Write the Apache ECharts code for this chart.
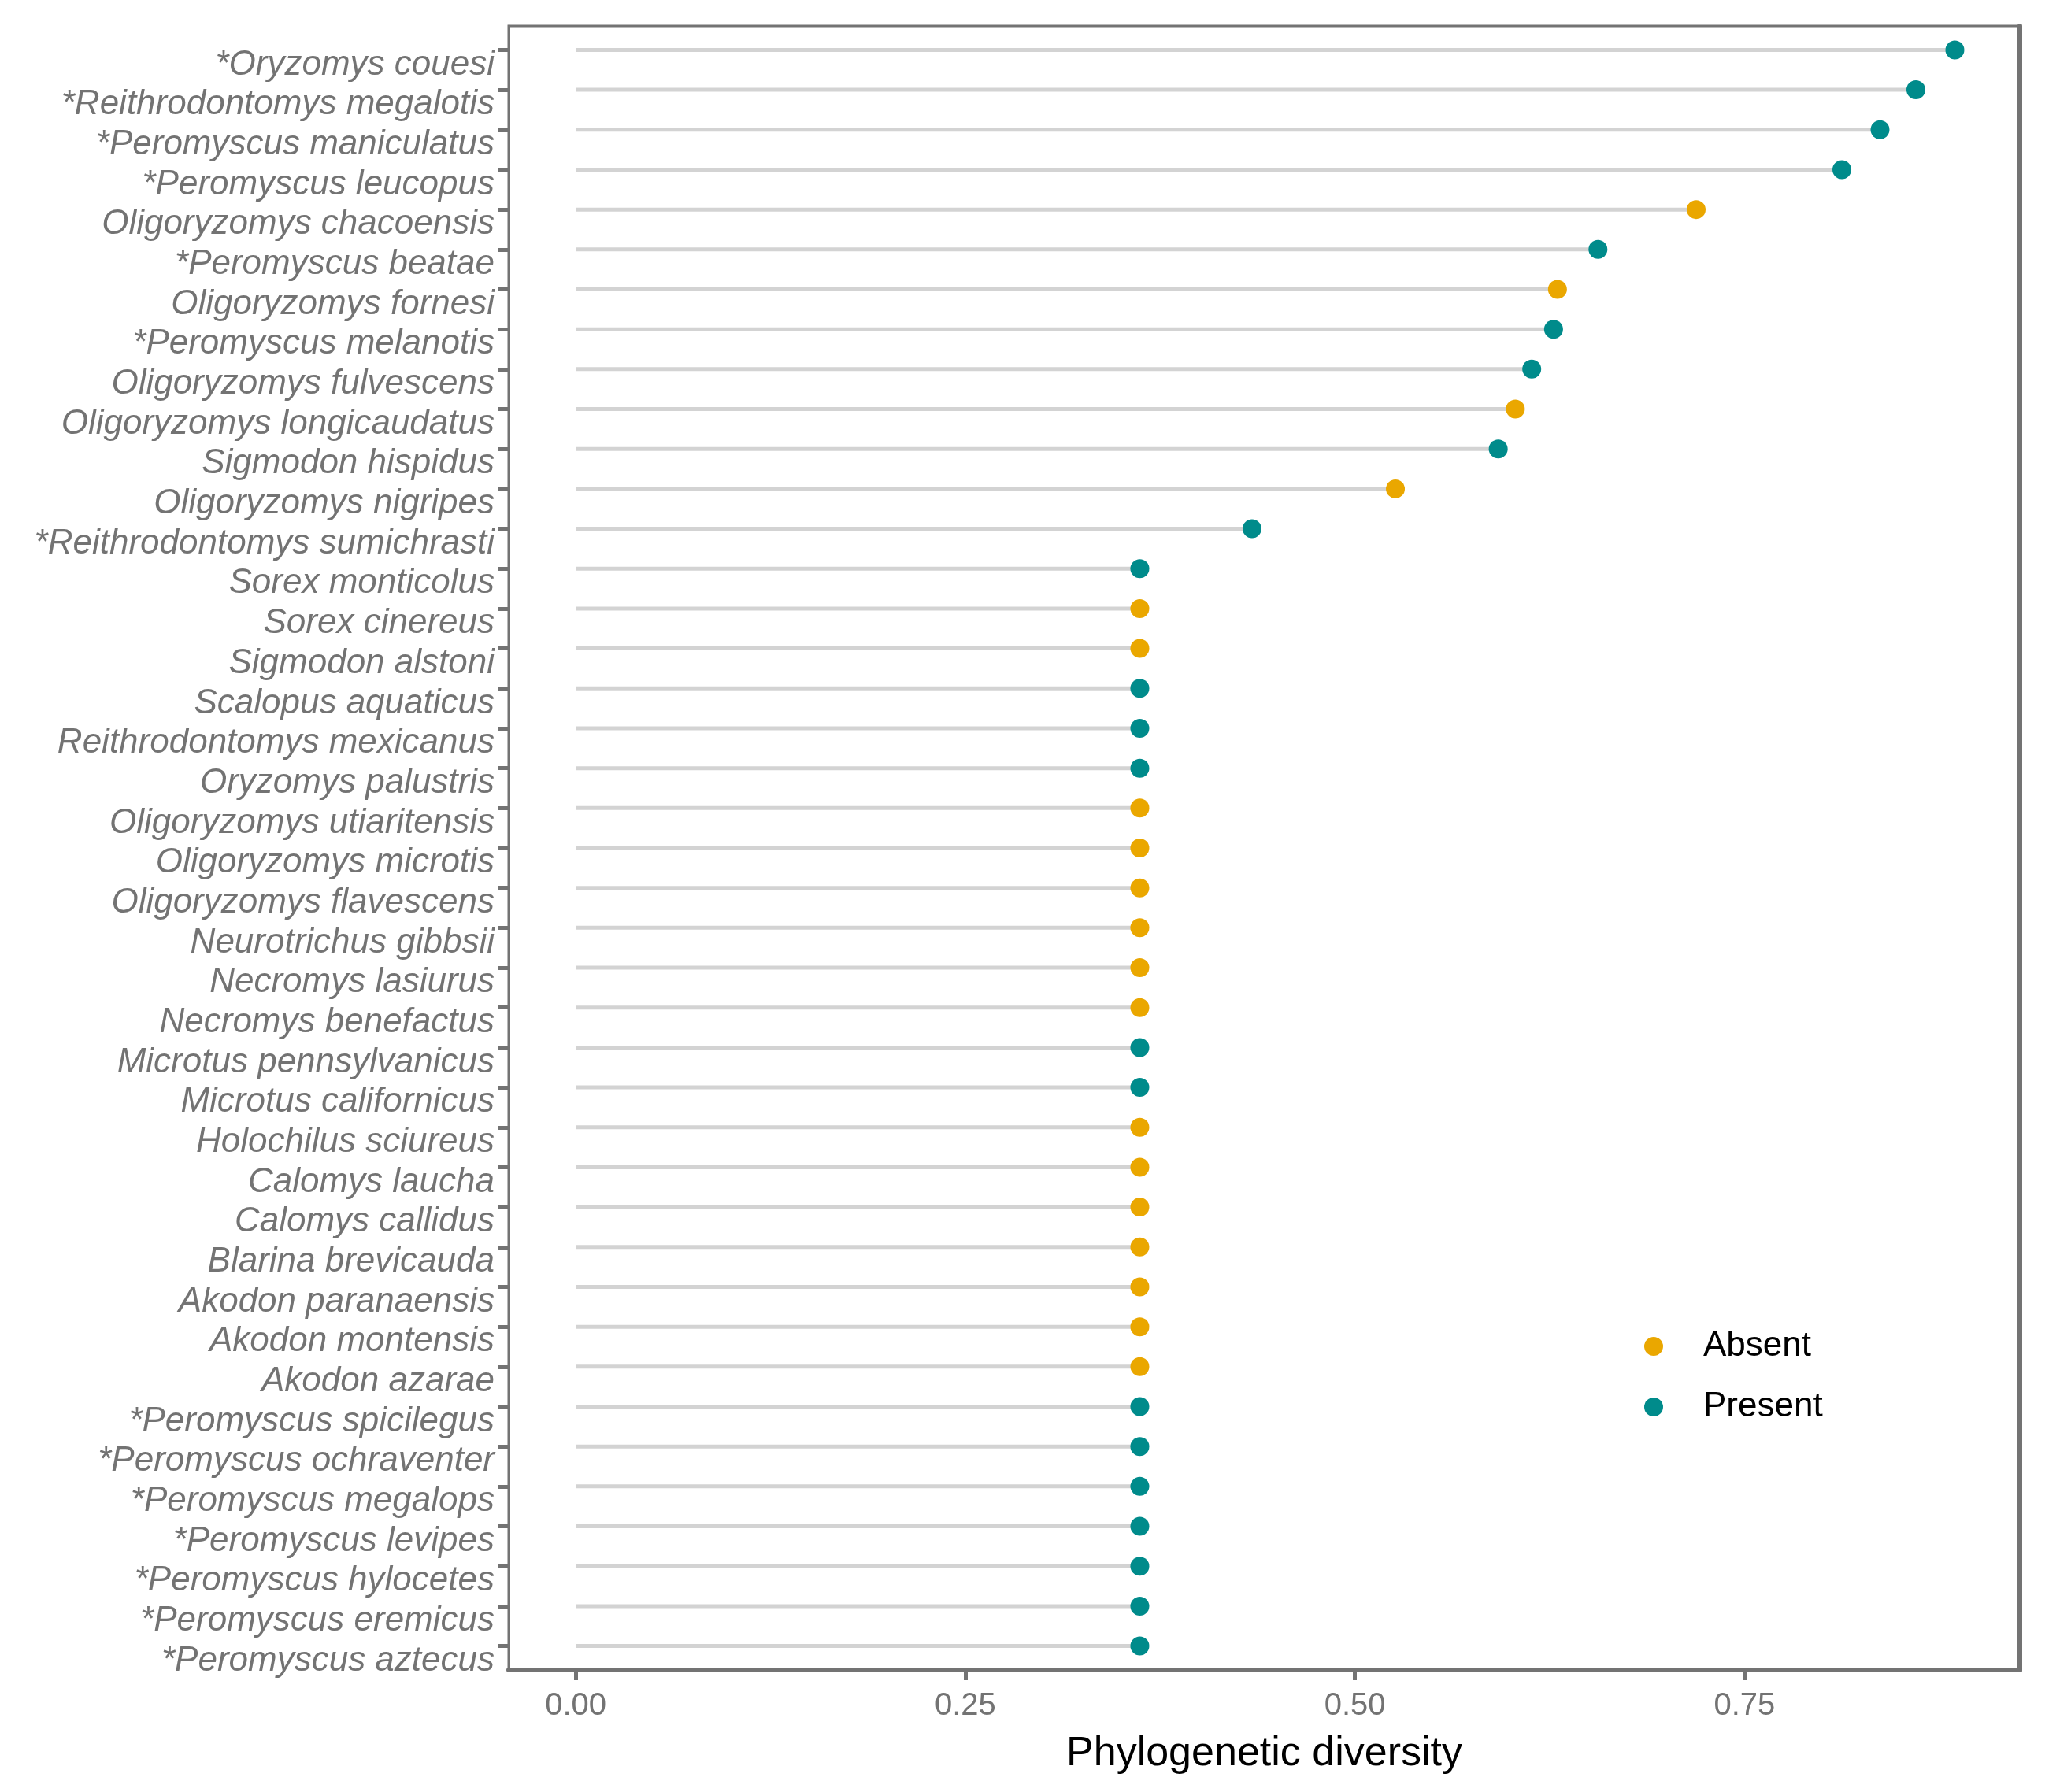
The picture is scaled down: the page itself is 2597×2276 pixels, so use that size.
<!DOCTYPE html>
<html>
<head>
<meta charset="utf-8">
<script src="https://cdn.jsdelivr.net/npm/echarts@6/dist/echarts.min.js"></script>
<style>
html,body{margin:0;padding:0;background:#fff;}
#chart{width:2597px;height:2276px;}
</style>
</head>
<body>
<div id="chart"></div>
<script>
const categories = [
  "*Oryzomys couesi", "*Reithrodontomys megalotis", "*Peromyscus maniculatus", "*Peromyscus leucopus",
  "Oligoryzomys chacoensis", "*Peromyscus beatae", "Oligoryzomys fornesi", "*Peromyscus melanotis",
  "Oligoryzomys fulvescens", "Oligoryzomys longicaudatus", "Sigmodon hispidus", "Oligoryzomys nigripes",
  "*Reithrodontomys sumichrasti", "Sorex monticolus", "Sorex cinereus", "Sigmodon alstoni",
  "Scalopus aquaticus", "Reithrodontomys mexicanus", "Oryzomys palustris", "Oligoryzomys utiaritensis",
  "Oligoryzomys microtis", "Oligoryzomys flavescens", "Neurotrichus gibbsii", "Necromys lasiurus",
  "Necromys benefactus", "Microtus pennsylvanicus", "Microtus californicus", "Holochilus sciureus",
  "Calomys laucha", "Calomys callidus", "Blarina brevicauda", "Akodon paranaensis",
  "Akodon montensis", "Akodon azarae", "*Peromyscus spicilegus", "*Peromyscus ochraventer",
  "*Peromyscus megalops", "*Peromyscus levipes", "*Peromyscus hylocetes", "*Peromyscus eremicus",
  "*Peromyscus aztecus"
];
const diversity = [
  0.885, 0.860, 0.837, 0.8125, 0.719, 0.656, 0.630, 0.6275,
  0.6135, 0.603, 0.592, 0.526, 0.434, 0.362, 0.362, 0.362,
  0.362, 0.362, 0.362, 0.362, 0.362, 0.362, 0.362, 0.362,
  0.362, 0.362, 0.362, 0.362, 0.362, 0.362, 0.362, 0.362,
  0.362, 0.362, 0.362, 0.362, 0.362, 0.362, 0.362, 0.362,
  0.362
];
const status = [
  "Present", "Present", "Present", "Present", "Absent", "Present", "Absent", "Present",
  "Present", "Absent", "Present", "Absent", "Present", "Present", "Absent", "Absent",
  "Present", "Present", "Present", "Absent", "Absent", "Absent", "Absent", "Absent",
  "Absent", "Present", "Present", "Absent", "Absent", "Absent", "Absent", "Absent",
  "Absent", "Absent", "Present", "Present", "Present", "Present", "Present", "Present",
  "Present"
];
const xTicks = [0, 0.25, 0.5, 0.75];
const groups = ["Absent", "Present"];
const groupColors = {Absent: "#EAA700", Present: "#008B8B"};

const rowIdx = categories.map((_, i) => i);
const segData = diversity.map((v, i) => [v, i]);
function groupData(g) {
  const out = [];
  diversity.forEach((v, i) => { if (status[i] === g) out.push([v, i]); });
  return out;
}

const chart = echarts.init(document.getElementById('chart'), null, {renderer: 'canvas'});
const axisGray = '#737373';
const yMin = -0.6, yMax = categories.length - 1 + 0.6;
chart.setOption({
  animation: false,
  backgroundColor: '#ffffff',
  grid: {
    left: 646, right: 32, top: 33, bottom: 155,
    outerBoundsMode: 'none',
    containLabel: false,
    show: true, borderColor: axisGray, borderWidth: 3, backgroundColor: 'transparent'
  },
  xAxis: {
    type: 'value',
    position: 'bottom',
    min: -0.043, max: 0.9267,
    name: 'Phylogenetic diversity',
    nameLocation: 'middle',
    nameGap: 81,
    nameTextStyle: {color: '#000', fontSize: 52, fontFamily: 'Liberation Sans, Arial, sans-serif'},
    axisLine: {show: true, onZero: false, lineStyle: {color: axisGray, width: 6}},
    splitLine: {show: false},
    axisTick: {show: true, inside: false, customValues: xTicks, length: 13, lineStyle: {color: axisGray, width: 5}},
    axisLabel: {
      customValues: xTicks, margin: 26, color: axisGray, fontSize: 40,
      fontFamily: 'Liberation Sans, Arial, sans-serif',
      formatter: v => Number(v).toFixed(2)
    }
  },
  yAxis: [
    {
      type: 'value',
      position: 'left',
      inverse: true,
      min: yMin, max: yMax,
      axisLine: {show: true, onZero: false, lineStyle: {color: axisGray, width: 3}},
      splitLine: {show: false},
      axisTick: {show: true, inside: false, customValues: rowIdx, length: 13, lineStyle: {color: axisGray, width: 5}},
      axisLabel: {
        customValues: rowIdx, margin: 18, color: '#737373', fontSize: 44,
        fontStyle: 'italic', fontFamily: 'Liberation Sans, Arial, sans-serif',
        verticalAlign: 'top', lineHeight: 38,
        formatter: v => categories[Math.round(v)]
      }
    },
    {
      type: 'value',
      position: 'right',
      inverse: true,
      min: yMin, max: yMax,
      axisLine: {show: true, onZero: false, lineStyle: {color: axisGray, width: 6}},
      splitLine: {show: false},
      axisTick: {show: false},
      axisLabel: {show: false}
    }
  ],
  legend: {
    orient: 'vertical',
    left: 2083, top: 1683,
    itemWidth: 24, itemHeight: 24, itemGap: 33,
    icon: 'circle',
    data: groups,
    textStyle: {color: '#000', fontSize: 44, fontFamily: 'Liberation Sans, Arial, sans-serif', padding: [0, 0, 0, 46]}
  },
  series: [
    {
      type: 'custom',
      name: 'segments',
      z: 1,
      encode: {x: 0, y: 1},
      data: segData,
      renderItem: function (params, api) {
        const v = api.value(0), i = api.value(1);
        const p0 = api.coord([0, i]);
        const p1 = api.coord([v, i]);
        return {
          type: 'line',
          shape: {x1: p0[0], y1: p0[1], x2: p1[0], y2: p1[1]},
          style: {stroke: '#D3D3D3', lineWidth: 5}
        };
      }
    }
  ].concat(groups.map(g => ({
    type: 'scatter',
    name: g,
    z: 3,
    symbol: 'circle',
    symbolSize: 24,
    itemStyle: {color: groupColors[g], opacity: 1},
    data: groupData(g)
  })))
});
</script>
</body>
</html>
